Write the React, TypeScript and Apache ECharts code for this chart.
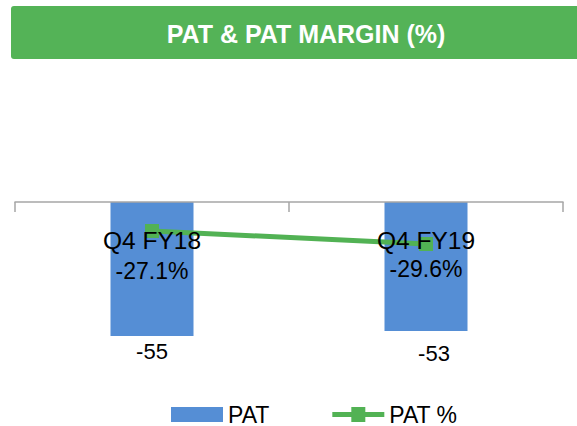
import React, { useEffect, useRef } from "react";
import * as echarts from "echarts";

const categories = ["Q4 FY18", "Q4 FY19"];
const patValues = [-55, -53];
const patMarginValues = [-27.1, -29.6];
const titleText = "PAT & PAT MARGIN (%)";

const FONT = "'Liberation Sans', Arial, sans-serif";
const BAR_COLOR = "#558ED5";
const LINE_COLOR = "#52B254";
const LINE_LEGEND_ICON =
  "path://M0,5 H19 V0 H33 V5 H52 V10 H33 V15 H19 V10 H0 Z";

export default function App() {
  const ref = useRef<HTMLDivElement>(null);
  useEffect(() => {
    if (!ref.current) return;
    const chart = echarts.init(ref.current, null, { renderer: "svg" });
    const pctOffsets = [40, 25];
    const barLabelOffsets = [
      [0, 0],
      [8, 6],
    ];
    chart.setOption({
      animation: false,
      backgroundColor: "#ffffff",
      textStyle: { fontFamily: FONT },
      graphic: [
        {
          type: "rect",
          shape: { x: 11, y: 6, width: 575, height: 53, r: 3 },
          style: { fill: "#54B357" },
        },
        {
          type: "text",
          x: 306,
          y: 34,
          style: {
            text: titleText,
            fill: "#ffffff",
            font: `bold 25px ${FONT}`,
            textAlign: "center",
            textVerticalAlign: "middle",
          },
        },
      ],
      legend: {
        left: 166,
        top: 398,
        itemWidth: 52,
        itemHeight: 15,
        itemGap: 63,
        textStyle: { fontSize: 23, color: "#000", fontFamily: FONT },
        data: [
          { name: "PAT", icon: "rect" },
          { name: "PAT %", icon: LINE_LEGEND_ICON },
        ],
      },
      grid: { left: 15, right: 14, top: 202, height: 170 },
      xAxis: {
        type: "category",
        position: "top",
        data: categories,
        axisLine: { lineStyle: { color: "#A6A6A6", width: 1.5 } },
        axisTick: {
          show: true,
          interval: 0,
          inside: true,
          length: 10,
          lineStyle: { color: "#A6A6A6", width: 1.5 },
        },
        axisLabel: {
          inside: true,
          interval: 0,
          margin: 26,
          fontSize: 24.5,
          color: "#000",
          fontFamily: FONT,
        },
        z: 10,
      },
      yAxis: [
        { type: "value", min: -69.8, max: 0, show: false },
        { type: "value", min: -54.21, max: -21.52, show: false },
      ],
      series: [
        {
          name: "PAT",
          type: "bar",
          data: patValues.map((v, i) => ({
            value: v,
            label: { offset: barLabelOffsets[i] },
          })),
          barWidth: 83,
          itemStyle: { color: BAR_COLOR },
          label: {
            show: true,
            position: "bottom",
            distance: 5,
            fontSize: 22,
            color: "#000",
            fontFamily: FONT,
          },
          z: 1,
        },
        {
          name: "PAT %",
          type: "line",
          yAxisIndex: 1,
          data: patMarginValues.map((v, i) => ({
            value: v,
            label: { offset: [0, pctOffsets[i]] },
          })),
          symbol: "rect",
          symbolSize: 14,
          lineStyle: { color: LINE_COLOR, width: 5 },
          itemStyle: { color: LINE_COLOR },
          label: {
            show: true,
            position: "inside",
            formatter: (p: any) => `${p.value}%`,
            fontSize: 23,
            color: "#000",
            fontFamily: FONT,
          },
          z: 2,
        },
      ],
    });
    return () => chart.dispose();
  }, []);
  return (
    <div
      ref={ref}
      style={{ position: "fixed", left: 0, top: 0, width: 577, height: 426 }}
    />
  );
}
